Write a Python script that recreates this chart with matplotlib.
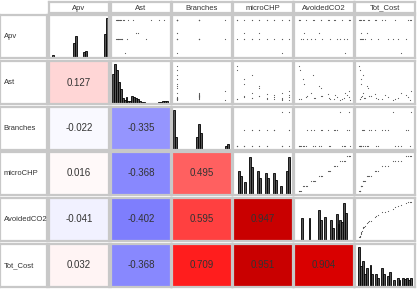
import matplotlib.pyplot as plt
from matplotlib.colors import LinearSegmentedColormap

plt.rcParams['font.family'] = ['Liberation Sans', 'DejaVu Sans']

names = ['Apv', 'Ast', 'Branches', 'microCHP', 'AvoidedCO2', 'Tot_Cost']

# Lower triangle correlations (row, col) -> value
corr = {
    (1, 0): 0.127,
    (2, 0): -0.022, (2, 1): -0.335,
    (3, 0): 0.016, (3, 1): -0.368, (3, 2): 0.495,
    (4, 0): -0.041, (4, 1): -0.402, (4, 2): 0.595, (4, 3): 0.947,
    (5, 0): 0.032, (5, 1): -0.368, (5, 2): 0.709, (5, 3): 0.951, (5, 4): 0.904,
}

# Observations (scaled 0-1), read roughly from the scatter cells
apv = [0.97, 0.97, 0.97, 0.97, 0.97, 0.97, 0.97, 0.97, 0.42, 0.42, 0.42, 0.42, 0.42, 0.42, 0.42,
       0.42, 0.60, 0.60, 0.97, 0.97, 0.42, 0.05, 0.97, 0.97, 0.42, 0.97, 0.97, 0.42, 0.97, 0.97]
ast = [0.05, 0.10, 0.08, 0.12, 0.06, 0.15, 0.04, 0.09, 0.05, 0.11, 0.07, 0.13, 0.03, 0.10, 0.06,
       0.14, 0.45, 0.40, 0.85, 0.70, 0.60, 0.20, 0.35, 0.25, 0.02, 0.18, 0.03, 0.22, 0.95, 0.02]
branches = [0.02, 0.02, 0.45, 0.45, 0.02, 0.45, 0.02, 0.45, 0.02, 0.45, 0.02, 0.45, 0.02, 0.45, 0.02,
            0.45, 0.02, 0.02, 0.02, 0.02, 0.02, 0.02, 0.02, 0.95, 0.95, 0.45, 0.45, 0.45, 0.02, 0.02]
micro_chp = [0.00, 0.14, 0.29, 0.43, 0.57, 0.71, 0.86, 1.00, 0.00, 0.14, 0.29, 0.43, 0.57, 0.71, 0.86,
             1.00, 0.14, 0.43, 0.00, 0.29, 0.14, 0.86, 0.43, 1.00, 0.86, 0.57, 0.71, 0.29, 0.00, 1.00]
avoided_co2 = [0.02, 0.15, 0.30, 0.45, 0.60, 0.72, 0.85, 0.98, 0.05, 0.18, 0.33, 0.47, 0.62, 0.75, 0.88,
               0.95, 0.12, 0.40, 0.03, 0.28, 0.10, 0.90, 0.44, 0.99, 0.80, 0.58, 0.70, 0.25, 0.01, 1.00]
tot_cost = [0.01, 0.04, 0.10, 0.20, 0.33, 0.50, 0.70, 0.95, 0.02, 0.05, 0.12, 0.22, 0.36, 0.55, 0.75,
            0.90, 0.04, 0.15, 0.02, 0.08, 0.03, 0.80, 0.18, 1.00, 0.65, 0.30, 0.45, 0.07, 0.00, 0.98]
data = [apv, ast, branches, micro_chp, avoided_co2, tot_cost]

# Diagonal histogram heights (30 bins each, relative)
hist_apv = [0, 0.04, 0, 0, 0, 0, 0, 0, 0, 0, 0, 0, 0.35, 0.55, 0, 0, 0, 0.12, 0.15, 0,
            0, 0, 0, 0, 0, 0, 0, 0, 0.6, 1.0]
hist_ast = [0.75, 1.0, 0.85, 0.55, 0.35, 0.12, 0.08, 0.15, 0.05, 0.06, 0.18, 0.15, 0.12, 0.1, 0.04,
            0.02, 0.02, 0, 0, 0, 0, 0, 0, 0, 0.02, 0.02, 0.06, 0.06, 0.05, 0]
hist_branches = [1.0, 0.3, 0, 0, 0, 0, 0, 0, 0, 0, 0, 0, 0.3, 0.65, 0.4, 0, 0, 0, 0, 0,
                 0, 0, 0, 0, 0, 0, 0, 0.08, 0.12, 0]
hist_micro = [0, 0, 0.6, 0.45, 0, 0.3, 0, 0, 0.95, 0.7, 0, 0, 0.6, 0.4, 0, 0, 0.55, 0.4, 0, 0,
              0.55, 0.35, 0, 0, 0.2, 0, 0, 0.6, 0.95, 0]
hist_co2 = [0, 0, 0, 0.56, 0, 0, 0, 0.56, 0, 0, 0, 0, 0.76, 0.5, 0, 0.6, 0, 0, 0.5, 0.3,
            0, 0.66, 0.4, 0.5, 0.45, 0.96, 0.7, 0, 0, 0]
hist_cost = [0, 1.0, 0.5, 0.65, 0.3, 0.45, 0, 0.55, 0.3, 0, 0.3, 0.2, 0, 0.45, 0.3, 0, 0.25, 0.35, 0, 0.15,
             0, 0.2, 0.15, 0, 0.2, 0.18, 0.2, 0.15, 0.2, 0]
hists = [hist_apv, hist_ast, hist_branches, hist_micro, hist_co2, hist_cost]

cmap = LinearSegmentedColormap.from_list('corr', [
    (0.0, '#0000c8'), (0.1, '#0000fc'), (0.5, '#ffffff'), (0.9, '#ff0000'), (1.0, '#b80000')])

W, H = 418, 291
col_x = [49, 111, 172, 233, 294, 355]
row_y = [15, 61, 107, 152, 198, 244]
cw, ch = 60, 43
border = '#c8c8c8'
txt = '#333333'

fig = plt.figure(figsize=(W / 100, H / 100), dpi=100)


def add_box(x, y, w, h):
    ax = fig.add_axes([x / W, 1 - (y + h) / H, w / W, h / H])
    ax.set_xticks([])
    ax.set_yticks([])
    for s in ax.spines.values():
        s.set_color(border)
        s.set_linewidth(1.6)
    return ax


# Column headers
for j, name in enumerate(names):
    ax = add_box(col_x[j], 2, cw, 11)
    ax.text(0.5, 0.45, name, ha='center', va='center', fontsize=5.5, color=txt)

# Row labels
for i, name in enumerate(names):
    ax = add_box(0, row_y[i], 47, ch)
    ax.text(0.08, 0.5, name, ha='left', va='center', fontsize=5.5, color=txt)

for i in range(6):
    for j in range(6):
        ax = add_box(col_x[j], row_y[i], cw, ch)
        if i == j:
            ax.bar(range(30), hists[i], width=1.0, color='#555555', edgecolor='black', linewidth=0.6)
            ax.set_xlim(-1, 30)
            ax.set_ylim(-0.03, 1.08)
        elif i < j:
            ax.scatter(data[j], data[i], s=0.7, color='#555555', linewidths=0)
            ax.set_xlim(-0.08, 1.08)
            ax.set_ylim(-0.1, 1.1)
        else:
            v = corr[(i, j)]
            ax.set_facecolor(cmap((v + 1) / 2))
            ax.text(0.5, 0.5, f'{v:.3f}', ha='center', va='center', fontsize=7, color=txt)

fig.savefig('out.png', dpi=100)
